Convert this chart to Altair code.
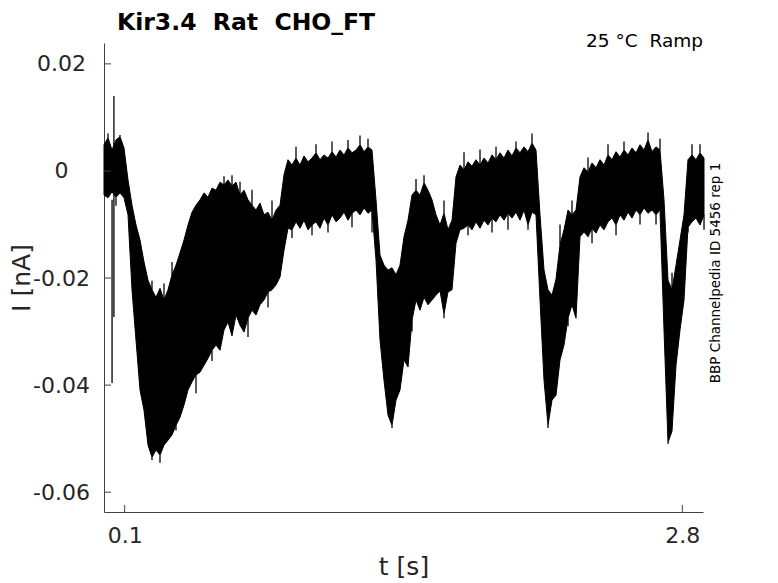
import altair as alt
import pandas as pd

# ---- data (current in pA; converted to nA below) ----
# sampling interval of the envelope readings (s); first sample at t = 0
T_START = 0.0
T_STEP = 0.019366

# upper envelope of the overlaid sweeps (pA)
HI_PA = [4.9, 6.2, 3.9, 5.8, 6.4, 4.3, -1.7, -6.4, -10.1, -12.9,
         -17.0, -20.4, -22.2, -23.6, -21.9, -24.1, -22.2, -19.4, -17.6, -15.3,
         -12.9, -10.1, -7.7, -6.4, -5.4, -4.1, -4.9, -3.2, -3.6, -2.1,
         -2.6, -1.7, -2.8, -2.1, -4.5, -3.6, -5.4, -6.4, -7.3, -6.0,
         -8.2, -7.7, -9.2, -7.3, -6.4, -0.7, 2.1, 1.1, 2.4, 1.1,
         2.8, 1.7, 2.4, 3.4, 2.1, 3.0, 2.4, 3.6, 2.6, 3.9,
         3.0, 4.3, 3.4, 3.9, 4.9, 3.6, 4.5, 3.9, -5.4, -15.7,
         -17.6, -18.5, -18.1, -19.4, -17.6, -12.3, -9.2, -4.5, -3.6, -4.5,
         -2.2, -3.6, -5.4, -8.2, -10.1, -7.9, -11.0, -9.2, -1.1, 1.1,
         0.2, 1.7, 0.9, 2.1, 1.1, 2.4, 1.5, 3.0, 2.1, 3.4,
         2.4, 3.9, 2.8, 4.3, 3.4, 4.5, 3.6, 5.2, 3.9, -8.2,
         -18.5, -22.2, -23.2, -20.2, -13.8, -11.0, -7.3, -8.2, -7.3, -1.1,
         0.6, -0.2, 1.5, 0.6, 2.1, 1.1, 3.0, 2.1, 3.6, 2.6,
         3.9, 3.0, 4.3, 3.4, 4.9, 3.9, 5.8, 3.6, 4.5, 3.9,
         -5.4, -20.4, -22.2, -17.6, -12.9, -8.2, 2.1, 3.0, 2.1, 3.4,
         2.4]

# lower envelope of the overlaid sweeps (pA)
LO_PA = [-4.5, -5.0, -3.9, -4.9, -4.1, -5.0, -8.2, -22.2, -31.6, -40.9,
         -44.7, -51.2, -53.5, -52.1, -53.1, -51.2, -50.3, -49.3, -47.5, -46.0,
         -43.7, -40.9, -39.4, -38.1, -37.6, -36.3, -35.0, -33.5, -32.5, -33.5,
         -29.7, -28.2, -30.8, -26.9, -28.8, -30.1, -27.5, -26.0, -26.9, -25.0,
         -24.1, -22.6, -22.2, -21.3, -19.8, -14.8, -10.7, -11.0, -9.5, -10.7,
         -9.2, -11.0, -10.1, -9.5, -10.7, -8.8, -10.1, -8.2, -9.5, -8.8,
         -7.7, -9.2, -7.9, -7.3, -8.2, -6.9, -7.9, -7.3, -16.6, -31.6,
         -39.1, -45.6, -47.5, -42.8, -40.9, -35.3, -36.6, -27.9, -24.1, -26.0,
         -23.6, -25.0, -24.1, -23.2, -22.4, -26.7, -22.6, -22.2, -13.5, -11.0,
         -10.7, -10.1, -11.0, -9.5, -10.7, -9.2, -10.1, -8.8, -9.5, -8.2,
         -9.2, -7.9, -8.8, -7.7, -9.2, -7.3, -10.1, -7.7, -8.2, -24.1,
         -39.1, -47.5, -42.8, -41.9, -35.3, -32.5, -27.5, -25.0, -27.5, -12.3,
         -11.4, -12.3, -10.7, -11.6, -10.1, -11.0, -9.5, -8.8, -10.1, -8.2,
         -9.2, -7.7, -8.8, -7.3, -8.2, -6.9, -7.9, -7.3, -8.2, -7.3,
         -29.7, -50.7, -48.6, -36.3, -29.7, -24.1, -10.5, -9.5, -8.8, -10.1,
         -8.2]

# noise spikes sticking out of the band: sample index and peak value (pA)
UP_IDX = [1, 4, 12, 15, 17, 30, 32, 34, 37, 42,
          48, 53, 57, 61, 64, 66, 78, 80, 85, 90,
          94, 98, 103, 107, 114, 117, 121, 126, 130, 136,
          139, 142, 147, 149]
UP_PA = [7.0, 6.7, -20.5, -21.0, -17.0, -1.0, -0.8, -2.0, -3.5, -5.5,
         4.5, 5.0, 5.5, 5.8, 6.6, 6.0, -1.5, -0.8, -5.5, 3.5,
         4.0, 4.5, 5.5, 7.0, -10.0, -5.5, 2.5, 5.0, 5.5, 7.2,
         6.0, -19.0, 5.0, 5.0]
DN_IDX = [3, 12, 14, 18, 23, 27, 36, 41, 47, 52,
          56, 62, 67, 72, 77, 85, 91, 97, 101, 106,
          111, 116, 122, 128, 134, 138, 141, 146, 150]
DN_PA = [-6.5, -54.0, -54.5, -48.5, -41.5, -35.5, -31.0, -25.5, -12.5, -12.0,
         -11.5, -10.5, -11.5, -48.0, -30.0, -27.5, -12.0, -11.5, -11.0, -11.0,
         -48.0, -29.0, -13.5, -12.0, -10.0, -10.0, -51.0, -11.5, -11.0]

# single-sample artefacts near the start (t in s, top/bottom in nA)
SPIKE_T = [0.048, 0.039]
SPIKE_TOP = [0.0140, -0.0054]
SPIKE_BOT = [-0.0273, -0.0396]

X_TICKS = [0.1, 2.8]
Y_TICKS = [0.02, 0, -0.02, -0.04, -0.06]

NB = "\u00a0"
TITLE = "Kir3.4" + NB + " Rat" + NB + " CHO_FT"
SUBTITLE = "25 \u00b0C" + NB + " Ramp"
SIDE_NOTE = "BBP Channelpedia ID 5456 rep 1"

# ---- tables ----
tk = lambda k: T_START + k * T_STEP
trace = pd.DataFrame({
    "t": [tk(i) for i in range(len(HI_PA))],
    "hi": [v / 1000 for v in HI_PA],
    "lo": [v / 1000 for v in LO_PA],
})
hairs = pd.DataFrame({
    "t": [tk(k) for k in UP_IDX] + [tk(k) for k in DN_IDX],
    "hi": [HI_PA[k] / 1000 for k in UP_IDX] + [LO_PA[k] / 1000 for k in DN_IDX],
    "lo": [v / 1000 for v in UP_PA] + [v / 1000 for v in DN_PA],
})
spikes = pd.DataFrame({"t": SPIKE_T, "hi": SPIKE_TOP, "lo": SPIKE_BOT})
xt = pd.DataFrame({"t": X_TICKS})
yt = pd.DataFrame({"hi": Y_TICKS})

W, H = 599, 469
AX = "#404040"
FONT = "DejaVu Sans"

xscale = alt.Scale(domain=[0, 2.9], nice=False, zero=False)
yscale = alt.Scale(domain=[-0.0637, 0.0239], nice=False, zero=False)
xaxis = alt.Axis(values=X_TICKS, labelExpr="'' + datum.value", tickSize=0,
                 labelPadding=13, labelFontSize=22, labelColor="#262626",
                 labelFont=FONT, domainColor=AX, domainWidth=1, grid=False,
                 title=None, labelBaseline="top")
yaxis = alt.Axis(values=Y_TICKS,
                 labelExpr="datum.value == 0 ? '0' : '' + datum.value",
                 tickSize=0, labelPadding=43, labelAlign="center",
                 labelFontSize=22, labelColor="#262626", labelFont=FONT,
                 domainColor=AX, domainWidth=1, grid=False, title=None)

X = lambda f: alt.X(f, type="quantitative", scale=xscale, axis=xaxis)
Y = lambda f: alt.Y(f, type="quantitative", scale=yscale, axis=yaxis)

band = alt.Chart(trace).mark_area(color="black", interpolate="linear",
                                  stroke="black", strokeWidth=1).encode(
    x=X("t"), y=Y("hi"), y2="lo")

hair = alt.Chart(hairs).mark_rule(color="black", strokeWidth=1.3).encode(
    x=X("t"), y=Y("hi"), y2="lo")

spk = alt.Chart(spikes).mark_rule(color="black", strokeWidth=1.3).encode(
    x=X("t"), y=Y("hi"), y2="lo")

xticks = alt.Chart(xt).mark_rule(color=AX, strokeWidth=1).encode(
    x=X("t"), y=alt.value(H), y2=alt.value(H - 7))
yticks = alt.Chart(yt).mark_rule(color=AX, strokeWidth=1).encode(
    y=Y("hi"), x=alt.value(0), x2=alt.value(7))

def label(text, **kw):
    df = pd.DataFrame({"s": [text]})
    return alt.Chart(df).mark_text(font=FONT, **kw).encode(text="s:N")

title = label(TITLE, fontSize=23.5, fontWeight="bold", align="left",
              baseline="middle", color="black").encode(
    x=alt.value(13), y=alt.value(-20))
sub = label(SUBTITLE, fontSize=18.5, align="right", baseline="alphabetic",
            color="black").encode(x=alt.value(599), y=alt.value(4))
side = label(SIDE_NOTE, fontSize=13.5, align="center", baseline="middle",
             angle=270, color="black").encode(x=alt.value(612), y=alt.value(230))
xtitle = label("t [s]", fontSize=25, align="center", baseline="middle",
               color="#262626").encode(x=alt.value(300), y=alt.value(524))
ytitle = label("I [nA]", fontSize=25, align="center", baseline="middle",
               angle=270, color="#262626").encode(x=alt.value(-82), y=alt.value(235))

chart = alt.layer(band, hair, spk, xticks, yticks, title, sub, side, xtitle, ytitle).properties(
    width=W, height=H,
    padding={"left": 96, "top": 35, "right": 60, "bottom": 72},
    autosize=alt.AutoSizeParams(type="none"),
    background="white",
).configure_view(stroke=None)

chart.save("out.html", embed_options={"renderer": "svg", "actions": False})
